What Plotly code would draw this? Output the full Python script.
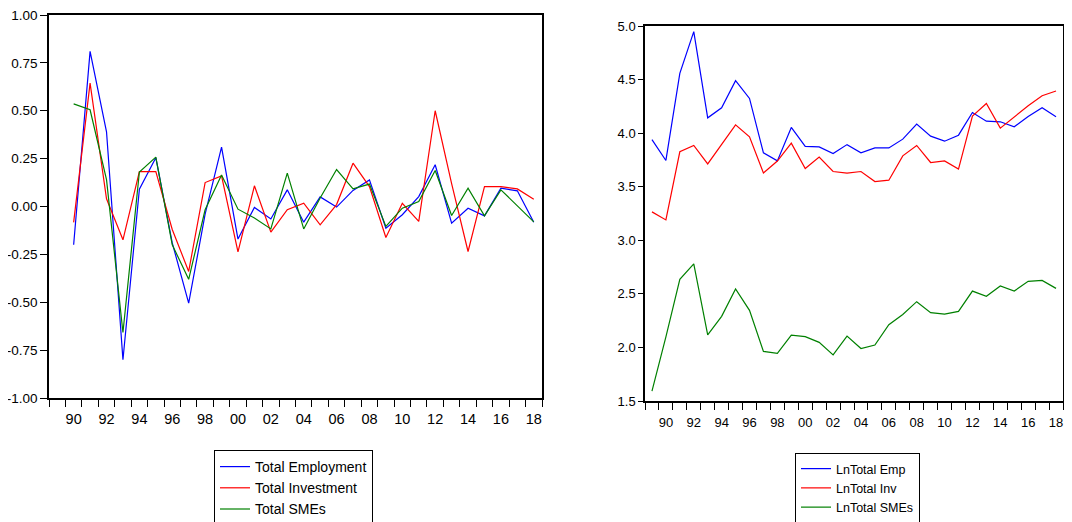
import plotly.graph_objects as go

# ---------------- data ----------------
years_diff = list(range(1990, 2019))
total_employment = [-0.20, 0.81, 0.39, -0.80, 0.09, 0.255, -0.19, -0.505, -0.04, 0.31,
                    -0.17, -0.005, -0.065, 0.087, -0.082, 0.05, -0.003, 0.084, 0.139, -0.113,
                    -0.043, 0.052, 0.218, -0.087, -0.009, -0.049, 0.096, 0.082, -0.082]
total_investment = [-0.083, 0.644, 0.04, -0.174, 0.182, 0.182, -0.12, -0.339, 0.125, 0.16,
                    -0.237, 0.108, -0.134, -0.017, 0.017, -0.096, 0.01, 0.226, 0.104, -0.162,
                    0.017, -0.078, 0.50, 0.12, -0.235, 0.104, 0.104, 0.092, 0.038]
total_smes = [0.536, 0.505, 0.14, -0.658, 0.18, 0.258, -0.20, -0.38, -0.017, 0.165,
              -0.014, -0.06, -0.117, 0.174, -0.117, 0.044, 0.193, 0.092, 0.117, -0.104,
              -0.009, 0.026, 0.188, -0.047, 0.096, -0.049, 0.087, 0.005, -0.08]

years_ln = list(range(1989, 2019))
ln_emp = [3.94, 3.745, 4.558, 4.947, 4.143, 4.237, 4.49, 4.324, 3.816, 3.741,
          4.053, 3.876, 3.872, 3.81, 3.893, 3.816, 3.863, 3.862, 3.944, 4.084,
          3.972, 3.925, 3.981, 4.193, 4.112, 4.106, 4.059, 4.156, 4.237, 4.153]
ln_inv = [3.265, 3.19, 3.826, 3.885, 3.713, 3.894, 4.077, 3.965, 3.628, 3.74,
          3.907, 3.67, 3.776, 3.642, 3.626, 3.642, 3.548, 3.561, 3.788, 3.885,
          3.726, 3.741, 3.664, 4.159, 4.277, 4.047, 4.153, 4.255, 4.349, 4.393]
ln_smes = [1.592, 2.098, 2.636, 2.779, 2.118, 2.29, 2.545, 2.346, 1.963, 1.944,
           2.115, 2.1, 2.047, 1.93, 2.106, 1.99, 2.022, 2.212, 2.308, 2.427,
           2.324, 2.311, 2.336, 2.526, 2.477, 2.573, 2.526, 2.617, 2.626, 2.551]

xtick_years = list(range(1990, 2019, 2))
xtick_labels = ["90", "92", "94", "96", "98", "00", "02", "04", "06", "08",
                "10", "12", "14", "16", "18"]
year_bounds = [1988.5 + i for i in range(31)]
left_yticks = [-1.0, -0.75, -0.5, -0.25, 0.0, 0.25, 0.5, 0.75, 1.0]
left_ylabels = ["-1.00", "-0.75", "-0.50", "-0.25", "0.00", "0.25", "0.50", "0.75", "1.00"]
right_yticks = [1.5, 2.0, 2.5, 3.0, 3.5, 4.0, 4.5, 5.0]
right_ylabels = ["1.5", "2.0", "2.5", "3.0", "3.5", "4.0", "4.5", "5.0"]

BLUE = "#0000FF"
RED = "#FF0000"
GREEN = "#008000"
FONT = "Liberation Sans Narrow, Arial Narrow, Liberation Sans, Arial, sans-serif"

W, H = 1072, 522
OFF = 8  # page body margin


def px_x(p):
    return (p - OFF) / W


def px_y(p):
    return 1 - (p - OFF) / H


fig = go.Figure()

for name, vals, col in [("Total Employment", total_employment, BLUE),
                        ("Total Investment", total_investment, RED),
                        ("Total SMEs", total_smes, GREEN)]:
    fig.add_trace(go.Scatter(x=years_diff, y=vals, mode="lines", name=name,
                             line=dict(color=col, width=1.2),
                             xaxis="x", yaxis="y", legend="legend"))

for name, vals, col in [("LnTotal Emp", ln_emp, BLUE),
                        ("LnTotal Inv", ln_inv, RED),
                        ("LnTotal SMEs", ln_smes, GREEN)]:
    fig.add_trace(go.Scatter(x=years_ln, y=vals, mode="lines", name=name,
                             line=dict(color=col, width=1.2),
                             xaxis="x2", yaxis="y2", legend="legend2"))


def xaxis_cfg(domain, anchor, fsize, lablen):
    return dict(domain=domain, anchor=anchor, range=[1988.5, 2018.5],
                tickvals=xtick_years, ticktext=xtick_labels,
                ticks="outside", ticklen=lablen, tickcolor="rgba(0,0,0,0)",
                minor=dict(tickvals=year_bounds, ticks="outside", ticklen=7,
                           tickcolor="black", tickwidth=1, showgrid=False),
                showline=True, linecolor="black", linewidth=1.5, mirror=True,
                showgrid=False, zeroline=False, automargin=False,
                ticklabeloverflow="allow",
                tickfont=dict(family=FONT, size=fsize, color="black"))


def yaxis_cfg(domain, anchor, rng, tv, tt, fsize, tlen):
    return dict(domain=domain, anchor=anchor, range=rng,
                tickvals=tv, ticktext=tt, ticks="outside", ticklen=tlen,
                tickcolor="black", tickwidth=1,
                showline=True, linecolor="black", linewidth=1.5, mirror=True,
                showgrid=False, zeroline=False, automargin=False,
                ticklabeloverflow="allow",
                tickfont=dict(family=FONT, size=fsize, color="black"))


fig.update_layout(
    width=W, height=H,
    margin=dict(l=0, r=0, t=0, b=0, autoexpand=False),
    paper_bgcolor="white", plot_bgcolor="white",
    font=dict(family=FONT, color="black"),
    xaxis=xaxis_cfg([px_x(49), px_x(542)], "y", 14.5, 7),
    yaxis=yaxis_cfg([px_y(398), px_y(15)], "x", [-1.0, 1.0],
                    left_yticks, left_ylabels, 13.5, 7),
    xaxis2=xaxis_cfg([px_x(645), px_x(1063)], "y2", 13, 9),
    yaxis2=yaxis_cfg([px_y(401), px_y(26)], "x2", [1.5, 5.0],
                     right_yticks, right_ylabels, 13, 5),
    legend=dict(x=px_x(214), y=px_y(450), xanchor="left", yanchor="top",
                bgcolor="white", bordercolor="black", borderwidth=1,
                font=dict(family=FONT, size=14, color="black"),
                itemwidth=30, tracegroupgap=0),
    legend2=dict(x=px_x(795), y=px_y(453), xanchor="left", yanchor="top",
                 bgcolor="white", bordercolor="black", borderwidth=1,
                 font=dict(family=FONT, size=12.5, color="black"),
                 itemwidth=30, tracegroupgap=0),
    showlegend=True,
)

fig.write_html("out.html")
